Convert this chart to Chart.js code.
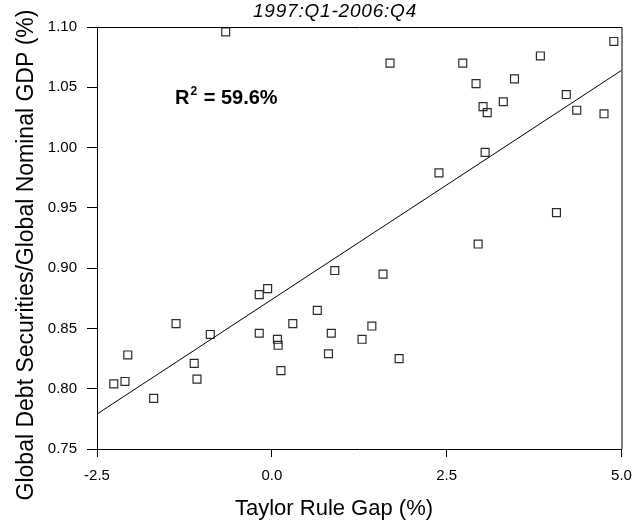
<!DOCTYPE html>
<html lang="en">

<head>
    <meta charset="UTF-8">
    <meta name="viewport" content="width=device-width, initial-scale=1.0">
    <script src="https://cdn.jsdelivr.net/npm/chart.js"></script>
    <title>Taylor Rule Gap vs Global Debt Securities</title>
    <style>
        html, body { margin: 0; padding: 0; background: #fff; }
        .chart-container { position: relative; width: 644px; height: 527px; }
    </style>
</head>

<body>
    <div class="chart-container">
        <canvas id="myChart"></canvas>
    </div>

    <script>
        // values
        const gapX = [-2.26, -2.10, -2.06, -1.69, -1.37, -1.11, -1.07, -0.88, -0.18, -0.06,
            -0.18, 0.08, 0.09, 0.13, 0.30, 0.65, 0.85, 0.81, 0.90, 1.29,
            1.43, 1.82, 1.59, 2.95, 1.69, 2.73, 2.92, 3.47, 3.84, 4.89,
            3.02, 3.08, 3.31, 4.21, 4.36, 4.75, 3.05, 2.39, 4.07, -0.66];
        const debtY = [0.804, 0.806, 0.828, 0.792, 0.854, 0.821, 0.808, 0.845, 0.878, 0.883,
            0.846, 0.841, 0.836, 0.815, 0.854, 0.865, 0.846, 0.829, 0.898, 0.841,
            0.852, 0.825, 0.895, 0.920, 1.070, 1.070, 1.053, 1.057, 1.076, 1.088,
            1.034, 1.029, 1.038, 1.044, 1.031, 1.028, 0.996, 0.979, 0.946, 1.096];

        // fitted line end points
        const fitX = [-2.5, 5.0];
        const fitY = [0.779, 1.064];

        const xTicks = [-2.5, 0.0, 2.5, 5.0];
        const yTicks = [0.75, 0.80, 0.85, 0.90, 0.95, 1.00, 1.05, 1.10];

        const chartTitle = '1997:Q1-2006:Q4';
        const xTitle = 'Taylor Rule Gap (%)';
        const yTitle = 'Global Debt Securities/Global Nominal GDP (%)';
        const r2Text = '59.6%';

        const FONT = '"Liberation Sans", Arial, sans-serif';

        // frame + texts drawn on the canvas
        const textPlugin = {
            id: 'textPlugin',
            afterDraw(chart) {
                const ctx = chart.ctx;
                const a = chart.chartArea;
                ctx.save();
                ctx.strokeStyle = '#000';
                ctx.lineWidth = 1;
                ctx.beginPath();
                ctx.moveTo(a.left, a.top + 0.5);
                ctx.lineTo(a.right + 0.5, a.top + 0.5);
                ctx.lineTo(a.right + 0.5, a.bottom);
                ctx.stroke();

                ctx.fillStyle = '#000';
                // title
                ctx.font = 'italic 19px ' + FONT;
                ctx.textAlign = 'center';
                ctx.textBaseline = 'middle';
                ctx.letterSpacing = '0.8px';
                ctx.fillText(chartTitle, 335, 12);
                ctx.letterSpacing = '0px';

                // x title
                ctx.font = '22px ' + FONT;
                ctx.fillText(xTitle, 334, 509);

                // y title
                ctx.save();
                ctx.translate(33, 255);
                ctx.rotate(-Math.PI / 2);
                ctx.font = '23px ' + FONT;
                ctx.textBaseline = 'alphabetic';
                ctx.fillText(yTitle, 0, 0);
                ctx.restore();

                // R squared
                ctx.textAlign = 'left';
                ctx.textBaseline = 'alphabetic';
                ctx.font = 'bold 20px ' + FONT;
                ctx.fillText('R', 175, 104);
                let w = ctx.measureText('R').width;
                ctx.font = 'bold 12px ' + FONT;
                ctx.fillText('2', 175 + w + 1, 95);
                let w2 = ctx.measureText('2').width;
                ctx.font = 'bold 20px ' + FONT;
                ctx.fillText(' = ' + r2Text, 175 + w + w2 + 2, 104);
                ctx.restore();
            }
        };

        const data = {
            datasets: [{
                type: 'scatter',
                label: 'Quarters',
                data: gapX.map((x, i) => ({ x: x, y: debtY[i] })),
                pointStyle: 'rect',
                pointRadius: 5.6,
                pointHoverRadius: 5.6,
                backgroundColor: 'rgba(255,255,255,0)',
                borderColor: '#2a2a2a',
                borderWidth: 1.2
            }, {
                type: 'line',
                label: 'Fit',
                data: fitX.map((x, i) => ({ x: x, y: fitY[i] })),
                borderColor: '#000',
                borderWidth: 1,
                pointRadius: 0,
                fill: false
            }]
        };

        const config = {
            type: 'scatter',
            data: data,
            options: {
                responsive: true,
                maintainAspectRatio: false,
                animation: false,
                events: [],
                layout: {
                    padding: { left: 37, right: 22.5, top: 27, bottom: 38 }
                },
                plugins: {
                    legend: { display: false },
                    tooltip: { enabled: false },
                    title: { display: false }
                },
                scales: {
                    x: {
                        type: 'linear',
                        min: -2.5,
                        max: 5.0,
                        afterBuildTicks: (s) => { s.ticks = xTicks.map(v => ({ value: v })); },
                        afterFit: (s) => { s.height = 40; s.paddingLeft = 0; s.paddingRight = 0; },
                        ticks: {
                            color: '#000',
                            padding: 10,
                            maxRotation: 0,
                            font: { family: FONT, size: 15 },
                            callback: (v) => Number(v).toFixed(1)
                        },
                        grid: { drawOnChartArea: false, drawTicks: true, tickLength: 8, tickColor: '#000' },
                        border: { display: true, color: '#000', width: 1 }
                    },
                    y: {
                        type: 'linear',
                        min: 0.75,
                        max: 1.10,
                        afterBuildTicks: (s) => { s.ticks = yTicks.map(v => ({ value: v })); },
                        afterFit: (s) => { s.width = 60; s.paddingTop = 0; s.paddingBottom = 0; },
                        ticks: {
                            color: '#000',
                            padding: 10,
                            font: { family: FONT, size: 15 },
                            callback: (v) => Number(v).toFixed(2)
                        },
                        grid: { drawOnChartArea: false, drawTicks: true, tickLength: 10, tickColor: '#000' },
                        border: { display: true, color: '#000', width: 1 }
                    }
                }
            },
            plugins: [textPlugin]
        };

        const myChart = new Chart(document.getElementById('myChart'), config);
    </script>
</body>

</html>
